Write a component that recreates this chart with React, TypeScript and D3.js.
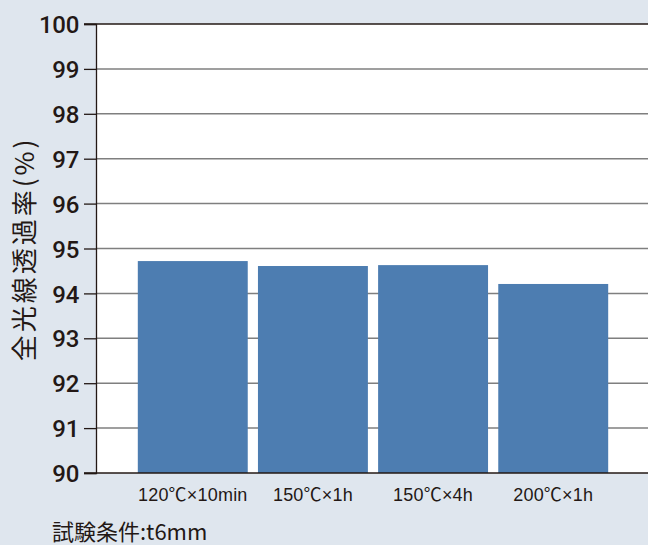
import React, { useEffect, useRef } from "react";
import * as d3 from "d3";

const categories = ["120℃×10min", "150℃×1h", "150℃×4h", "200℃×1h"];
const values = [94.72, 94.61, 94.63, 94.21];
const yTicks = [90, 91, 92, 93, 94, 95, 96, 97, 98, 99, 100];
const yTitle = "全光線透過率(%)";
const note = "試験条件:t6mm";

const W = 648;
const H = 545;

const App: React.FC = () => {
	const svgRef = useRef<SVGSVGElement>(null);

	useEffect(() => {
		if (!svgRef.current) return;
		const svg = d3.select(svgRef.current);
		svg.selectAll("*").remove();

		const plot = { left: 96, right: 648, top: 24, bottom: 473 };

		const y = d3.scaleLinear().domain([90, 100]).range([plot.bottom, plot.top]);
		const x = d3
			.scaleBand<string>()
			.domain(categories)
			.range([133, 613])
			.paddingInner(0.085)
			.paddingOuter(0.04);

		svg.append("rect").attr("width", W).attr("height", H).attr("fill", "#dfe6ee");

		svg
			.append("rect")
			.attr("x", plot.left)
			.attr("y", plot.top)
			.attr("width", plot.right - plot.left)
			.attr("height", plot.bottom - plot.top)
			.attr("fill", "#ffffff");

		// grid lines
		svg
			.append("g")
			.selectAll("line")
			.data(yTicks.filter((t) => t !== 90 && t !== 100))
			.join("line")
			.attr("x1", plot.left)
			.attr("x2", plot.right)
			.attr("y1", (d) => y(d))
			.attr("y2", (d) => y(d))
			.attr("stroke", "#7f7f7f")
			.attr("stroke-width", 1.5);

		// top line
		svg
			.append("line")
			.attr("x1", 84)
			.attr("x2", plot.right)
			.attr("y1", y(100))
			.attr("y2", y(100))
			.attr("stroke", "#231815")
			.attr("stroke-width", 1.3);

		// bars
		svg
			.append("g")
			.selectAll("rect")
			.data(values)
			.join("rect")
			.attr("x", (d, i) => x(categories[i]) as number)
			.attr("y", (d) => y(d))
			.attr("width", x.bandwidth())
			.attr("height", (d) => y(90) - y(d))
			.attr("fill", "#4d7db1");

		// y axis
		const yAxis = svg
			.append("g")
			.attr("transform", `translate(${plot.left},0)`)
			.call(d3.axisLeft(y).tickValues(yTicks).tickSize(12).tickPadding(5).tickFormat(d3.format("d")));
		yAxis.select(".domain").attr("stroke", "#231815").attr("stroke-width", 1.3);
		yAxis.selectAll(".tick line").attr("stroke", "#231815").attr("stroke-width", 1.3);
		yAxis
			.selectAll(".tick text")
			.attr("fill", "#231815")
			.attr("dy", "0.36em")
			.style("font-family", "Roboto, 'Liberation Sans', sans-serif")
			.style("font-weight", 500)
			.style("font-size", "24px")
			.style("letter-spacing", "-0.3px");

		// bottom axis line
		svg
			.append("line")
			.attr("x1", 84)
			.attr("x2", plot.right)
			.attr("y1", y(90))
			.attr("y2", y(90))
			.attr("stroke", "#231815")
			.attr("stroke-width", 1.3);

		// category labels
		svg
			.append("g")
			.selectAll("text")
			.data(categories)
			.join("text")
			.attr("x", (d) => (x(d) as number) + x.bandwidth() / 2)
			.attr("y", 501)
			.attr("text-anchor", "middle")
			.attr("fill", "#231815")
			.style("font-family", "'Liberation Sans', 'Noto Sans CJK JP', sans-serif")
			.style("font-size", "18px")
			.style("letter-spacing", "0.2px")
			.text((d) => d);

		// y title
		svg
			.append("text")
			.attr("transform", `translate(34,249) rotate(-90)`)
			.attr("text-anchor", "middle")
			.attr("fill", "#231815")
			.style("font-family", "'Noto Sans CJK JP', sans-serif")
			.style("font-size", "26px")
			.style("letter-spacing", "3px")
			.text(yTitle);

		// note
		svg
			.append("text")
			.attr("x", 52)
			.attr("y", 540)
			.attr("fill", "#231815")
			.style("font-family", "'Noto Sans CJK JP', sans-serif")
			.style("font-size", "22px")
			.text(note);
	}, []);

	return (
		<svg
			ref={svgRef}
			width={W}
			height={H}
			style={{ position: "absolute", left: 0, top: 0, display: "block" }}
		/>
	);
};

export default App;
